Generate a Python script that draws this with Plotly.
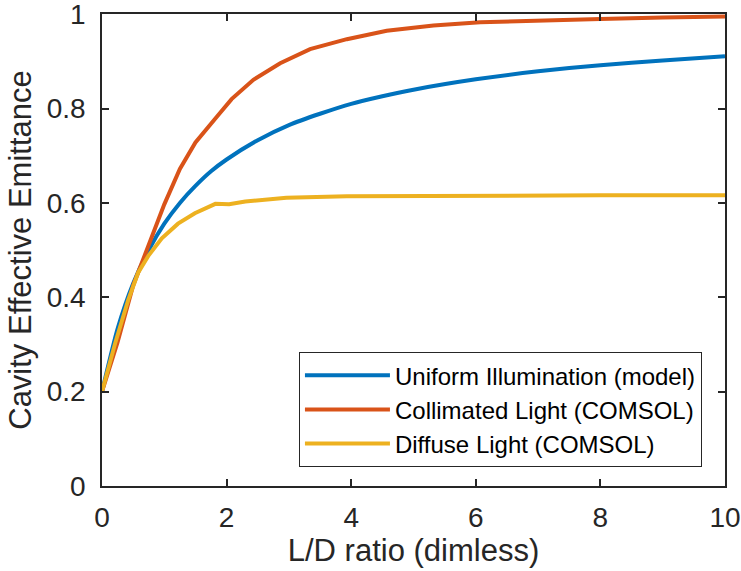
import plotly.graph_objects as go

# ---- data ----
ld_uniform = [0, 0.25, 0.5, 0.75, 1.0, 1.25, 1.5, 1.75, 2.0, 2.5, 3.0, 3.5, 4.0, 4.5, 5.0, 6.0, 7.0, 8.0, 9.0, 10.0]
eps_uniform = [0.200, 0.333, 0.429, 0.500, 0.556, 0.600, 0.636, 0.667, 0.692, 0.733, 0.765, 0.789,
               0.810, 0.826, 0.840, 0.862, 0.879, 0.892, 0.902, 0.911]

ld_collimated = [0, 0.25, 0.5, 0.75, 1.0, 1.25, 1.5, 1.84, 2.08, 2.43, 2.86, 3.34, 3.93, 4.57,
                 5.32, 6.07, 7.0, 8.0, 9.0, 10.0]
eps_collimated = [0.200, 0.305, 0.425, 0.512, 0.597, 0.672, 0.728, 0.782, 0.820, 0.861, 0.896, 0.926,
                  0.947, 0.965, 0.976, 0.983, 0.987, 0.990, 0.993, 0.995]

ld_diffuse = [0, 0.21, 0.42, 0.58, 0.75, 0.96, 1.22, 1.49, 1.82, 2.04, 2.30, 2.96, 3.93, 5.0, 6.07, 8.0, 10.0]
eps_diffuse = [0.200, 0.302, 0.394, 0.452, 0.489, 0.525, 0.556, 0.578, 0.598, 0.597, 0.603, 0.611,
               0.614, 0.615, 0.616, 0.616, 0.616]

names = ["Uniform Illumination (model)", "Collimated Light (COMSOL)", "Diffuse Light (COMSOL)"]
colors = ["#0072BD", "#D95319", "#EDB120"]

x_ticks = [0, 2, 4, 6, 8, 10]
y_ticks = [0, 0.2, 0.4, 0.6, 0.8, 1]

INK = "#262626"
FONT = "Liberation Sans, Arial, Helvetica, sans-serif"

fig = go.Figure()
fig.add_trace(go.Scatter(x=ld_uniform, y=eps_uniform, mode="lines", name=names[0],
                         line=dict(color=colors[0], width=4, shape="spline", smoothing=0.6)))
fig.add_trace(go.Scatter(x=ld_collimated, y=eps_collimated, mode="lines", name=names[1],
                         line=dict(color=colors[1], width=4)))
fig.add_trace(go.Scatter(x=ld_diffuse, y=eps_diffuse, mode="lines", name=names[2],
                         line=dict(color=colors[2], width=4)))

axis_common = dict(
    showline=True, linecolor=INK, linewidth=1.5, mirror="ticks",
    ticks="inside", ticklen=7, tickwidth=1.5, tickcolor=INK,
    showgrid=False, zeroline=False, automargin=False,
    ticklabeloverflow="allow",
    tickfont=dict(family=FONT, size=28, color=INK),
)

fig.update_layout(
    width=741, height=571,
    margin=dict(l=102, r=16, t=14, b=85),
    paper_bgcolor="white", plot_bgcolor="white",
    font=dict(family=FONT, color=INK),
    xaxis=dict(range=[0, 10], tickvals=x_ticks, ticktext=[str(v) for v in x_ticks],
               title=dict(text="L/D ratio (dimless)", font=dict(family=FONT, size=31, color=INK), standoff=4),
               ticklabelstandoff=6, **axis_common),
    yaxis=dict(range=[0, 1.0004], tickvals=y_ticks, ticktext=[("%g" % v) for v in y_ticks],
               title=dict(text="Cavity Effective Emittance", font=dict(family=FONT, size=31, color=INK), standoff=6),
               ticklabelstandoff=9, **axis_common),
    legend=dict(x=0.963, y=0.04, xanchor="right", yanchor="bottom",
                bgcolor="white", bordercolor=INK, borderwidth=1,
                font=dict(family=FONT, size=24, color="black"),
                tracegroupgap=0, itemwidth=85),
    showlegend=True,
)

fig.write_html("out.html")
